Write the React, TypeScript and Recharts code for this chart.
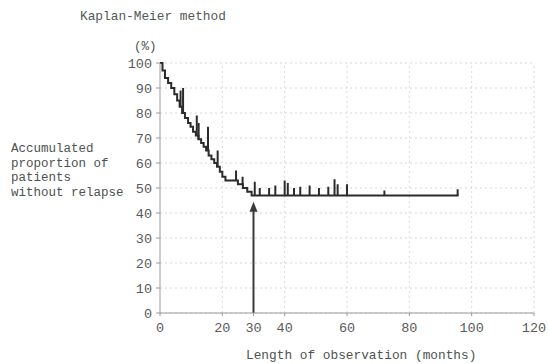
import {
  ComposedChart,
  Line,
  XAxis,
  YAxis,
  CartesianGrid,
  ReferenceLine,
} from "recharts";

// step times (months) and survival (%) after each step
const STEP_TIMES = [
  0, 0.8, 1.6, 2.6, 3.6, 4.6, 5.5, 6.3, 7.1, 8.0, 9.0, 9.8, 10.6, 11.5, 12.3,
  13.2, 14.0, 14.8, 15.6, 16.5, 17.4, 18.3, 19.2, 20.0, 21.0, 25.0, 26.6, 28.0,
  29.4,
];
const STEP_SURVIVAL = [
  100, 97, 94, 92, 90, 87.5, 85, 82.5, 80, 78, 76, 74.5, 72.5, 71, 69.5, 68,
  66.5, 65, 63, 61.5, 60, 58.5, 56.5, 54.5, 53, 51.5, 50, 48.5, 47,
];
const LAST_FOLLOW_UP = 95.8;

// censored patients: time and top of the tick mark
const CENSOR_TIMES = [
  6.6, 7.4, 11.8, 12.4, 15.4, 18.5, 24.4, 26.5, 30.4, 32, 35, 37, 40, 41, 43,
  45, 48, 51, 54, 56, 57, 60, 72, 95.5,
];
const CENSOR_TOPS = [
  89, 90, 79, 76, 74.5, 65, 57, 54.5, 52.5, 50, 50, 51, 53, 52, 50, 50.5, 51,
  50, 50.5, 53.5, 51.5, 51.5, 49, 49.5,
];

const X_TICKS = [0, 20, 30, 40, 60, 80, 100, 120];
const Y_TICKS = [0, 10, 20, 30, 40, 50, 60, 70, 80, 90, 100];
const GRID_X = [20, 40, 60, 80, 100, 120];

const ARROW_AT = 30;
const ARROW_TIP = 44.5;

const survivalAt = (t: number) => {
  let s = STEP_SURVIVAL[0];
  STEP_TIMES.forEach((st, i) => {
    if (st <= t) s = STEP_SURVIVAL[i];
  });
  return s;
};

const curve = [
  ...STEP_TIMES.map((t, i) => ({ t, s: STEP_SURVIVAL[i] })),
  { t: LAST_FOLLOW_UP, s: STEP_SURVIVAL[STEP_SURVIVAL.length - 1] },
];

const FONT = '"Liberation Mono", "DejaVu Sans Mono", monospace';
const INK = "#2b2b2b";

const Arrow = (props: any) => {
  const { x1, y1, x2, y2 } = props;
  const tipY = Math.min(y1, y2);
  const baseY = Math.max(y1, y2);
  return (
    <g>
      <line x1={x1} y1={baseY} x2={x2} y2={tipY + 8} stroke="#3a3a3a" strokeWidth={2} />
      <polygon
        points={`${x1},${tipY} ${x1 - 4},${tipY + 10} ${x1 + 4},${tipY + 10}`}
        fill="#3a3a3a"
      />
    </g>
  );
};

export default function App() {
  const text = { position: "absolute" as const, fontFamily: FONT, color: "#4d5350", whiteSpace: "pre" as const };
  return (
    <div style={{ position: "absolute", left: 0, top: 0, width: 549, height: 364, background: "#fff" }}>
      <ComposedChart
        width={549}
        height={364}
        data={curve}
        margin={{ top: 63, right: 15, bottom: 21, left: 120 }}
      >
        <CartesianGrid vertical={false} stroke="#d6d6d6" strokeDasharray="2 3" />
        {GRID_X.map((x) => (
          <ReferenceLine key={`g-${x}`} x={x} stroke="#dadada" strokeDasharray="2 3" />
        ))}
        <XAxis
          type="number"
          dataKey="t"
          domain={[0, 120]}
          ticks={X_TICKS}
          interval={0}
          height={30}
          tickSize={3}
          tickMargin={6}
          stroke="#9a9a9a"
          tick={{ fill: "#5a5a5a", fontSize: 13.5, fontFamily: FONT }}
        />
        <YAxis
          type="number"
          domain={[0, 100]}
          ticks={Y_TICKS}
          interval={0}
          width={40}
          tickSize={4}
          tickMargin={4}
          stroke="#9a9a9a"
          tick={{ fill: "#5a5a5a", fontSize: 13.5, fontFamily: FONT }}
        />
        <Line
          dataKey="s"
          type="stepAfter"
          stroke={INK}
          strokeWidth={2}
          dot={false}
          isAnimationActive={false}
        />
        {CENSOR_TIMES.map((t, i) => (
          <ReferenceLine
            key={`c-${i}`}
            segment={[
              { x: t, y: survivalAt(t) },
              { x: t, y: CENSOR_TOPS[i] },
            ]}
            stroke={INK}
            strokeWidth={2}
          />
        ))}
        <ReferenceLine
          segment={[
            { x: ARROW_AT, y: 0 },
            { x: ARROW_AT, y: ARROW_TIP },
          ]}
          shape={Arrow}
        />
      </ComposedChart>
      <div style={{ ...text, left: 80, top: 9, fontSize: 12.8, color: "#4f5a55" }}>Kaplan-Meier method</div>
      <div style={{ ...text, left: 134, top: 40, fontSize: 12.5 }}>(%)</div>
      <div style={{ ...text, left: 11, top: 142, fontSize: 12.5, lineHeight: "14.7px" }}>
        {"Accumulated\nproportion of\npatients\nwithout relapse"}
      </div>
      <div style={{ ...text, left: 246, top: 348, fontSize: 12.8 }}>Length of observation (months)</div>
    </div>
  );
}
